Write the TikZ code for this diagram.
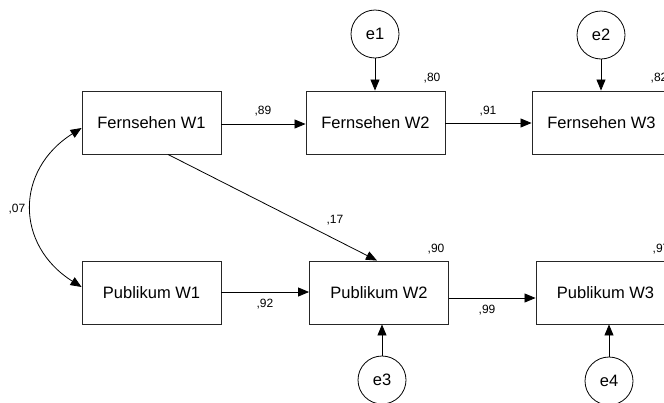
\documentclass[tikz,border=0pt]{standalone}
\usepackage{fontspec}
\setmainfont{Liberation Sans}
\usetikzlibrary{arrows.meta,calc}
\begin{document}
\begin{tikzpicture}[x=1pt,y=-1pt,
  var/.style={draw=black!85,line width=0.9pt,minimum width=139pt,minimum height=63pt,
    inner sep=0pt,font=\fontsize{16.5}{19}\selectfont},
  err/.style={draw=black,line width=0.8pt,circle,minimum size=48pt,inner sep=0pt,
    font=\fontsize{16.5}{19}\selectfont},
  coef/.style={font=\fontsize{12}{14}\selectfont,inner sep=0pt},
  path/.style={line width=0.8pt,-{Triangle[length=11pt,width=9pt]}},
  cov/.style={line width=0.8pt,{Triangle[length=11pt,width=9pt]}-{Triangle[length=11pt,width=9pt]}}]
\useasboundingbox (0,0) rectangle (664,402);

% observed variables
\node[var] (F1) at (151.5,122.5) {Fernsehen W1};
\node[var] (F2) at (375.5,122.5) {Fernsehen W2};
\node[var] (F3) at (601.5,122.5) {Fernsehen W3};
\node[var] (P1) at (151.5,292.5) {Publikum W1};
\node[var] (P2) at (379,292.5) {Publikum W2};
\node[var] (P3) at (605.5,292.5) {Publikum W3};

% residuals
\node[err] (e1) at (375,34) {e1};
\node[err] (e2) at (601,35) {e2};
\node[err] (e3) at (382,380) {e3};
\node[err] (e4) at (609,381) {e4};

% regression paths
\draw[path] ($(F1.east)+(0,1.5)$) -- ($(F2.west)+(0,1.5)$);
\draw[path] ($(F2.east)+(0,0.5)$) -- ($(F3.west)+(0,0.5)$);
\draw[path] ($(P1.east)+(0,-0.5)$) -- ($(P2.west)+(0,-0.5)$);
\draw[path] ($(P2.east)+(0,5.5)$) -- ($(P3.west)+(0,5.5)$);
\draw[path] ($(F1.south)+(16.5,0)$) -- ($(P2.north)+(-2,0)$);

% residual paths
\draw[path] (e1.south) -- (e1.south |- F2.north);
\draw[path] (e2.south) -- (e2.south |- F3.north);
\draw[path] (e3.north) -- (e3.north |- P2.south);
\draw[path] (e4.north) -- (e4.north |- P3.south);

% covariance
\draw[cov] ($(F1.west)+(0,5.5)$) .. controls (15,170) and (15,245) .. ($(P1.west)+(0,-5.5)$);

% estimates (the two at the right edge run past the page, as in the layout)
\node[coef] (c89) at (263,111) {,89};
\node[coef] (c91) at (488,111) {,91};
\node[coef] (c80) at (432,78) {,80};
\node[coef] (c82) at (659,78) {,82};
\node[coef] (c17) at (335,220) {,17};
\node[coef] (c90) at (436,249) {,90};
\node[coef] (c97) at (661,249) {,97};
\node[coef] (c92) at (265,304) {,92};
\node[coef] (c99) at (487,310) {,99};
\node[coef] (c07) at (17,209) {,07};
\end{tikzpicture}
\end{document}
